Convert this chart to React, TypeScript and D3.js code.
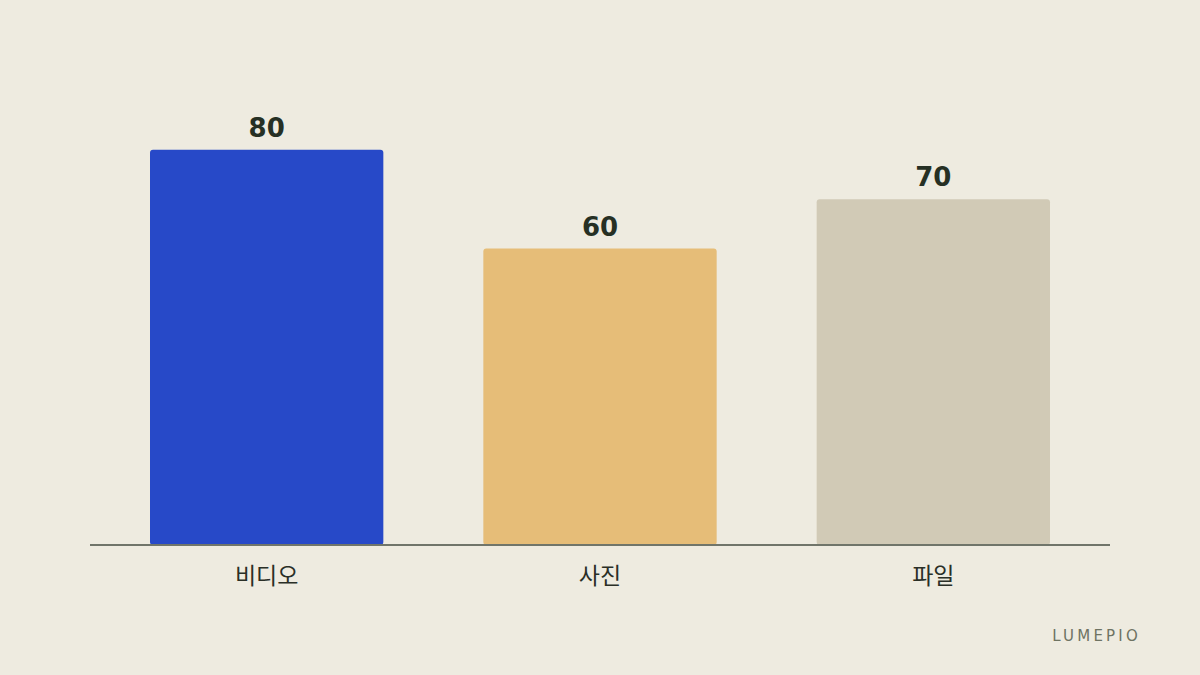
import React from "react";
import * as d3 from "d3";

const categories = ["비디오", "사진", "파일"];
const values = [80, 60, 70];
const colors = ["#2749c8", "#e6bd78", "#d1cab6"];

const W = 1200;
const H = 675;

export default function App() {
  const x = d3.scaleBand<string>().domain(categories).range([100, 1100]).paddingInner(0.3).paddingOuter(0.15);
  const y = d3.scaleLinear().domain([0, 100]).range([545, 51]);
  return (
    <svg width={W} height={H} style={{ position: "absolute", left: 0, top: 0, background: "#eeebe0" }}>
      <rect x={0} y={0} width={W} height={H} fill="#eeebe0" />
      {categories.map((c, i) => {
        const bx = x(c) as number;
        const by = y(values[i]);
        return (
          <g key={c}>
            <rect x={bx} y={by} width={x.bandwidth()} height={y(0) - by} rx={3} fill={colors[i]} />
            <text x={bx + x.bandwidth() / 2} y={by - 13} textAnchor="middle" fontFamily="DejaVu Sans" fontWeight="bold" fontSize={26} fill="#263024">
              {values[i]}
            </text>
            <text x={bx + x.bandwidth() / 2} y={584} textAnchor="middle" fontFamily="'Noto Sans CJK KR', 'DejaVu Sans'" fontSize={23} fill="#2a2f27">
              {c}
            </text>
          </g>
        );
      })}
      <line x1={90} x2={1110} y1={y(0)} y2={y(0)} stroke="#70756a" strokeWidth={2} />
      <text x={1141} y={641} textAnchor="end" fontFamily="DejaVu Sans" fontSize={15} letterSpacing={3.2} fill="#6e7363">
        LUMEPIO
      </text>
    </svg>
  );
}
